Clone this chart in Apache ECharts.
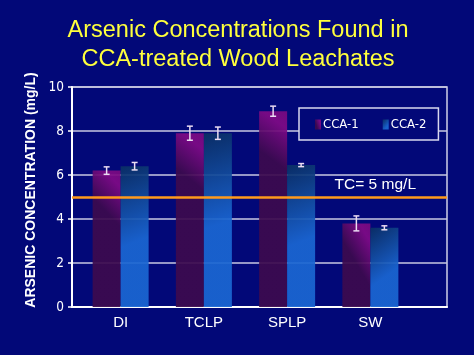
<!DOCTYPE html>
<html>
<head>
<meta charset="utf-8">
<script src="https://cdn.jsdelivr.net/npm/echarts@6/dist/echarts.min.js"></script>
<style>
  html, body { margin: 0; padding: 0; background: #020878; }
  #chart { width: 474px; height: 355px; }
</style>
</head>
<body>
<div id="chart"></div>
<script>
// leachate tests
const categories = ['DI', 'TCLP', 'SPLP', 'SW']
const cca1 = [6.2, 7.9, 8.9, 3.8]
const cca2 = [6.4, 7.9, 6.45, 3.6]
const cca1Err = [0.17, 0.32, 0.23, 0.34]
const cca2Err = [0.17, 0.28, 0.07, 0.09]
const yTicks = [0, 2, 4, 6, 8, 10]
const tcLimit = 5

const BAR_W = 28
const white = '#ffffff'
const narrow = '"Liberation Sans Narrow", "DejaVu Sans Condensed", sans-serif'
const sans = '"Liberation Sans", Arial, sans-serif'

const errSeries = (vals, errs, dx) => ({
  type: 'custom',
  xAxisIndex: 1,
  yAxisIndex: 1,
  z: 6,
  silent: true,
  data: vals.map((v, i) => [i, v, errs[i]]),
  renderItem: (params, api) => {
    const i = api.value(0)
    const v = api.value(1)
    const e = api.value(2)
    const hi = api.coord([i, v + e])
    const lo = api.coord([i, v - e])
    const x = hi[0] + dx
    const cap = 3
    const style = { stroke: '#eadcf2', lineWidth: 1.5 }
    return {
      type: 'group',
      children: [
        { type: 'line', shape: { x1: x, y1: hi[1], x2: x, y2: lo[1] }, style },
        { type: 'line', shape: { x1: x - cap, y1: hi[1], x2: x + cap, y2: hi[1] }, style },
        { type: 'line', shape: { x1: x - cap, y1: lo[1], x2: x + cap, y2: lo[1] }, style }
      ]
    }
  }
})

const chart = echarts.init(document.getElementById('chart'))
chart.setOption({
  backgroundColor: '#020878',
  animation: false,
  title: {
    text: 'Arsenic Concentrations Found in\nCCA-treated Wood Leachates',
    left: 233,
    top: 11,
    textAlign: 'center',
    textStyle: {
      color: '#ffff3c',
      fontFamily: sans,
      fontSize: 23.5,
      fontWeight: 'normal',
      lineHeight: 29,
      align: 'center'
    }
  },
  legend: {
    data: ['CCA-1', 'CCA-2'],
    left: 299,
    top: 108,
    orient: 'horizontal',
    icon: 'rect',
    itemWidth: 6,
    itemHeight: 10,
    itemGap: 24,
    padding: [10, 12, 9, 16],
    borderColor: '#d8d8ee',
    borderWidth: 1.5,
    backgroundColor: '#020878',
    selectedMode: false,
    textStyle: { color: white, fontSize: 13, fontFamily: narrow, padding: [0, 0, 0, -3] },
    z: 10
  },
  grid: [
    { left: 72, right: 27, top: 87, bottom: 48, show: true, borderColor: '#d0d0e8', borderWidth: 1.5, backgroundColor: 'transparent' },
    { left: 79, right: 62, top: 87, bottom: 48 }
  ],
  xAxis: [
    {
      gridIndex: 0,
      type: 'value',
      min: 0,
      max: 1,
      axisLine: { show: true, onZero: false, lineStyle: { color: white, width: 2 } },
      axisTick: { show: false },
      axisLabel: { show: false },
      splitLine: { show: false }
    },
    {
      gridIndex: 1,
      type: 'category',
      data: categories,
      axisLine: { show: false },
      axisTick: { show: false },
      axisLabel: { color: white, fontSize: 15, fontFamily: sans, margin: 8 }
    }
  ],
  yAxis: [
    {
      gridIndex: 0,
      type: 'value',
      min: yTicks[0],
      max: yTicks[yTicks.length - 1],
      interval: 2,
      name: 'ARSENIC CONCENTRATION (mg/L)',
      nameLocation: 'middle',
      nameGap: 28,
      nameTextStyle: { color: white, fontSize: 14, fontWeight: 'bold', fontFamily: sans, padding: [0, 0, 0, 14] },
      axisLine: { show: true, lineStyle: { color: white, width: 2 } },
      axisTick: { show: true, length: 4, lineStyle: { color: white, width: 1.5 } },
      axisLabel: { color: white, fontSize: 13.5, fontFamily: narrow, margin: 8 },
      splitLine: { show: true, lineStyle: { color: '#c8c8e2', width: 1.5 } }
    },
    {
      gridIndex: 1,
      type: 'value',
      min: 0,
      max: 10,
      show: false,
      splitLine: { show: false }
    }
  ],
  series: [
    {
      name: 'CCA-1',
      type: 'bar',
      xAxisIndex: 1,
      yAxisIndex: 1,
      barWidth: BAR_W,
      barGap: '0%',
      z: 3,
      data: cca1,
      itemStyle: {
        opacity: 0.93,
        color: new echarts.graphic.LinearGradient(0, 0.2, 1, 0, [
          { offset: 0, color: '#3c0a4e' },
          { offset: 0.7, color: '#800a86' },
          { offset: 1, color: '#780a80' }
        ])
      }
    },
    {
      name: 'CCA-2',
      type: 'bar',
      xAxisIndex: 1,
      yAxisIndex: 1,
      barWidth: BAR_W,
      barGap: '0%',
      z: 3,
      data: cca2,
      itemStyle: {
        opacity: 0.93,
        color: new echarts.graphic.LinearGradient(0, 0, 1, 0.5, [
          { offset: 0, color: '#0a2f64' },
          { offset: 1, color: '#1a66d2' }
        ])
      }
    },
    errSeries(cca1, cca1Err, -BAR_W / 2),
    errSeries(cca2, cca2Err, BAR_W / 2),
    {
      type: 'line',
      xAxisIndex: 0,
      yAxisIndex: 0,
      data: [],
      z: 5,
      markLine: {
        silent: true,
        symbol: 'none',
        lineStyle: { color: '#ff9a1c', width: 2.5, type: 'solid' },
        label: {
          show: true,
          position: 'insideEndTop',
          formatter: 'TC= 5 mg/L',
          color: white,
          fontSize: 15.5,
          fontFamily: sans,
          distance: 4,
          padding: [0, 27, 0, 0]
        },
        data: [{ yAxis: tcLimit }]
      }
    }
  ]
})
</script>
</body>
</html>
